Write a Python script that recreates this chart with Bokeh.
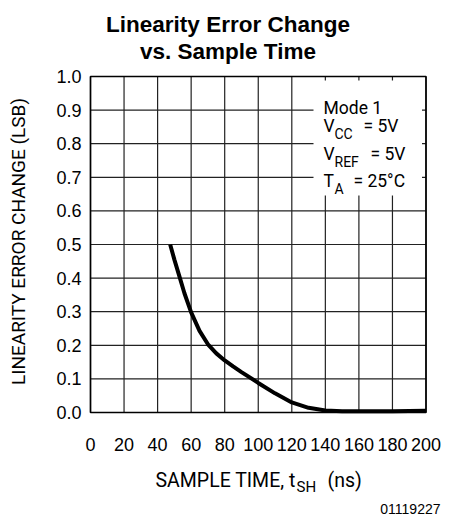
from bokeh.plotting import figure
from bokeh.models import Range1d
from bokeh.core.properties import value
from bokeh.embed import file_html
from bokeh.resources import INLINE
import math

# ---- data ----
sample_time_ns = [47.5, 50, 53, 56, 60, 65, 70, 75, 80, 85, 90, 100, 110, 120, 130, 140, 150, 160, 180, 200]
linearity_error_change_lsb = [0.50, 0.455, 0.405, 0.355, 0.298, 0.243, 0.203, 0.176, 0.155, 0.137, 0.120,
                              0.088, 0.057, 0.030, 0.014, 0.006, 0.004, 0.004, 0.004, 0.005]
x_ticks = [0, 20, 40, 60, 80, 100, 120, 140, 160, 180, 200]
y_ticks = [0.0, 0.1, 0.2, 0.3, 0.4, 0.5, 0.6, 0.7, 0.8, 0.9, 1.0]
x_tick_labels = [str(t) for t in x_ticks]
y_tick_labels = ["%.1f" % t for t in y_ticks]

title_lines = ["Linearity Error Change", "vs. Sample Time"]
y_label = "LINEARITY ERROR CHANGE (LSB)"
fig_id = "01119227"

FONT = "Liberation Sans"
THIN = "Roboto"

X0, Y0 = 0.0, 0.0
X1, Y1 = 200.0, 1.0

# picture-pixel -> data helpers (plot area spans x 90..425.5, y 412..76)
def xd(px):
    return (px - 90) / 1.6775

def yd(py):
    return (412 - py) / 336.0

W, H = 454, 516
p = figure(width=W, height=H, output_backend="svg", toolbar_location=None,
           x_range=Range1d(xd(0), xd(W)), y_range=Range1d(yd(H), yd(0)),
           min_border=0, x_axis_location=None, y_axis_location=None)
p.outline_line_color = None
p.xgrid.visible = False
p.ygrid.visible = False

# grid through the scales
p.segment(x0=x_ticks, y0=[Y0] * len(x_ticks), x1=x_ticks, y1=[Y1] * len(x_ticks),
          line_color="#222222", line_width=1.2)
p.segment(x0=[X0] * len(y_ticks), y0=y_ticks, x1=[X1] * len(y_ticks), y1=y_ticks,
          line_color="#222222", line_width=1.2)

# blank box holding the conditions
p.quad(left=[xd(313)], right=[xd(421.5)], bottom=[yd(195)], top=[yd(80)],
       fill_color="white", line_color=None)

# frame
p.quad(left=[X0], right=[X1], bottom=[Y0], top=[Y1], fill_color=None,
       line_color="black", line_width=1.6)

# curve
p.line(sample_time_ns, linearity_error_change_lsb, line_color="black", line_width=4)

# tick labels
p.text(x=x_ticks, y=[yd(443.5)] * len(x_ticks), text=x_tick_labels, text_align="center",
       text_baseline="alphabetic", text_font=value(FONT), text_font_size="18px", text_color="black")
p.text(x=[xd(81)] * len(y_ticks), y=y_ticks, text=y_tick_labels, text_align="right",
       text_baseline="middle", text_font=value(FONT), text_font_size="18px", text_color="black")

def lab(text, px, py, size, font=FONT, align="left", baseline="alphabetic", style="normal", angle=0.0):
    p.text(x=[xd(px)], y=[yd(py)], text=[text], text_font=value(font), text_font_size=size,
           text_align=align, text_baseline=baseline, text_font_style=style,
           text_color="black", angle=angle)

# title
lab(title_lines[0], 227.5, 24, "22.5px", align="center", style="bold")
lab(title_lines[1], 227.5, 51, "22.5px", align="center", style="bold")

# axis labels
lab(y_label, 18, 241, "19px", font=THIN, align="center", baseline="middle", angle=math.pi / 2)
lab("SAMPLE TIME, t", 155, 480, "19.5px", font=THIN)
lab("SH", 296, 486, "15px", font=THIN)
lab("(ns)", 327, 480, "19.5px", font=THIN)

# conditions
lab("Mode  1", 323, 107, "17.5px", font=THIN)
lab("V", 323, 125, "17.5px", font=THIN)
lab("CC", 334, 133, "14px", font=THIN)
lab("=  5V", 363, 125, "17.5px", font=THIN)
lab("V", 323, 153, "17.5px", font=THIN)
lab("REF", 334, 161, "14px", font=THIN)
lab("=  5V", 370, 153, "17.5px", font=THIN)
lab("T", 323, 180, "17.5px", font=THIN)
lab("A", 334, 188, "14px", font=THIN)
lab("=  25°C", 353, 180, "17.5px", font=THIN)

lab(fig_id, 440, 508, "14px", align="right")

open("out.html", "w").write(file_html(p, INLINE))
